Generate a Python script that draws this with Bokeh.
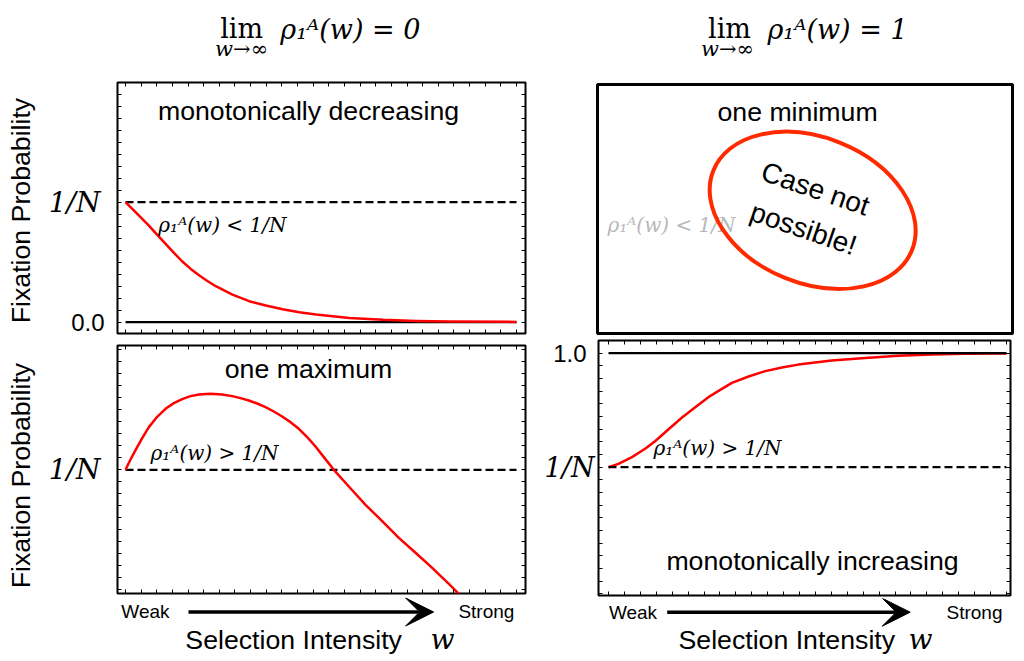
import math
import numpy as np
from bokeh.plotting import figure
from bokeh.models import Label, Arrow, VeeHead, LinearAxis, FixedTicker, Range1d
from bokeh.layouts import row, column
from bokeh.embed import file_html
from bokeh.resources import INLINE
from bokeh.core.properties import value

# ---------------- data ----------------
N_POP = 4
ONE_OVER_N = 0.25          # 1/N
ZERO_LEVEL = 0.0
ONE_LEVEL = 1.0
W_LIMITS = [0.0, 1.0]      # weak ... strong selection

# top-left: monotonically decreasing, rho < 1/N
dec_w = [0.0, 0.0128, 0.0256, 0.0427, 0.0598, 0.0812, 0.1026, 0.1239, 0.1453,
         0.1667, 0.188, 0.2094, 0.2308, 0.2735, 0.3162, 0.359, 0.4017, 0.4444,
         0.4872, 0.5726, 0.6581, 0.7436, 0.8291, 1.0]
dec_rho = [0.25, 0.2396, 0.2292, 0.2153, 0.2014, 0.1819, 0.1632, 0.1444, 0.1265,
           0.1110, 0.0978, 0.0858, 0.0750, 0.0576, 0.0438, 0.0347, 0.0271, 0.0208,
           0.016, 0.009, 0.0049, 0.0028, 0.0014, 0.0007]

# bottom-left: one maximum, rho > 1/N for weak selection
max_w = [0.0, 0.0128, 0.0256, 0.0426, 0.0597, 0.081, 0.1023, 0.1236, 0.1449,
         0.1662, 0.1876, 0.2174, 0.2472, 0.2728, 0.2941, 0.3154, 0.3367, 0.3581,
         0.3794, 0.4007, 0.422, 0.4433, 0.4646, 0.4859, 0.5072, 0.5328, 0.5712,
         0.6138, 0.6564, 0.6991, 0.7417, 0.7843, 0.827, 0.8525]
max_rho = [0.25, 0.2715, 0.291, 0.316, 0.3389, 0.3604, 0.3771, 0.3889, 0.3972,
           0.4035, 0.4069, 0.4083, 0.4069, 0.4035, 0.3993, 0.3944, 0.3882, 0.3806,
           0.3715, 0.3611, 0.3493, 0.3354, 0.3181, 0.2986, 0.2764, 0.25, 0.2153,
           0.1771, 0.1431, 0.1083, 0.0771, 0.0458, 0.0125, -0.0083]

# bottom-right: monotonically increasing towards 1
inc_w = [0.0, 0.025, 0.059, 0.092, 0.117, 0.151, 0.184, 0.218, 0.251, 0.285,
         0.310, 0.352, 0.394, 0.436, 0.477, 0.561, 0.645, 0.729, 0.812, 0.896, 1.0]
inc_rho = [0.25, 0.272, 0.316, 0.371, 0.421, 0.500, 0.575, 0.645, 0.711, 0.765,
           0.805, 0.847, 0.882, 0.906, 0.925, 0.952, 0.969, 0.983, 0.991, 0.996, 0.998]

# tick labels
TICK_ONE_OVER_N = "1/N"
TICK_ZERO = "0.0"
TICK_ONE = "1.0"

SANS = "Liberation Sans"
SERIF = "DejaVu Serif"
RED = "#ff0000"
ELLIPSE_RED = "#ff2a00"
TXT = 26.7

# panel data ranges (frame extents)
TL_X = (-0.0205, 1.0230); TL_Y = (-0.0235, 0.4994)
BL_X = TL_X;              BL_Y = (-0.0077, 0.5090)
TR_X = (-0.0276, 1.0151); TR_Y = (-0.0235, 0.4952)
BR_X = (-0.0251, 1.0101); BR_Y = (-0.5941, 1.0836)


def extend(rng, npx, lo_px, hi_px):
    s = npx / (rng[1] - rng[0])
    return (rng[0] - lo_px / s, rng[1] + hi_px / s)


def shift(rng, npx, lo_px, hi_px):
    """range of a strip lying beyond the high end (positive px) or
    below the low end (negative px) of a frame of npx pixels"""
    s = npx / (rng[1] - rng[0])
    if lo_px >= 0:
        return (rng[1] + lo_px / s, rng[1] + hi_px / s)
    return (rng[0] + lo_px / s, rng[0] + hi_px / s)


def base_fig(x_rng, y_rng, fw, fh, left, right, top, bottom, **kw):
    p = figure(frame_width=fw, frame_height=fh,
               x_range=Range1d(*x_rng), y_range=Range1d(*y_rng),
               min_border_left=left, min_border_right=right,
               min_border_top=top, min_border_bottom=bottom,
               output_backend="svg", toolbar_location=None, tools="", **kw)
    p.grid.visible = False
    p.background_fill_color = "white"
    p.border_fill_color = "white"
    return p


def strip(x_rng, y_rng, fw, fh, left=0, right=0, top=0, bottom=0):
    p = base_fig(x_rng, y_rng, fw, fh, left, right, top, bottom,
                 x_axis_location=None, y_axis_location=None)
    p.outline_line_color = None
    return p


def panel(x_rng, y_rng, fw, fh, left, right, top, bottom, ticks=True,
          y_step=0.025, outline=2):
    kw = {} if ticks else dict(x_axis_location=None, y_axis_location=None)
    p = base_fig(x_rng, y_rng, fw, fh, left, right, top, bottom, **kw)
    p.outline_line_color = "black"
    p.outline_line_width = outline
    if ticks:
        p.add_layout(LinearAxis(), "above")
        p.add_layout(LinearAxis(), "right")
        xt = FixedTicker(ticks=[], minor_ticks=list(np.round(np.arange(-0.2, 1.2, 0.04), 4)))
        yt = FixedTicker(ticks=[], minor_ticks=list(np.round(np.arange(-1.0, 1.5, y_step), 4)))
        for ax in p.xaxis:
            ax.ticker = xt
        for ax in p.yaxis:
            ax.ticker = yt
        for ax in p.axis:
            ax.axis_line_color = None
            ax.major_tick_in = 0
            ax.major_tick_out = 0
            ax.minor_tick_in = 4
            ax.minor_tick_out = 0
            ax.minor_tick_line_color = "black"
            ax.minor_tick_line_width = 1
            ax.major_label_standoff = 0
    return p


def lab(p, x, y, text, size, font=SANS, style="normal", align="left",
        baseline="middle", angle=0.0, color="black", x_offset=0):
    p.add_layout(Label(x=x, y=y, text=text, text_font=font,
                       text_font_size=f"{size}px", text_font_style=style,
                       text_align=align, text_baseline=baseline, angle=angle,
                       text_color=color, x_offset=x_offset))


def x_axis_block(p, weak_x, strong_x, lab_y, arr_x0, arr_x1, arr_y, sel_x, sel_y, w_x):
    lab(p, weak_x, lab_y, "Weak", 19, align="center")
    lab(p, strong_x, lab_y, "Strong", 19, align="center")
    p.add_layout(Arrow(end=VeeHead(size=28, fill_color="black", line_color="black"),
                       x_start=arr_x0, y_start=arr_y, x_end=arr_x1, y_end=arr_y,
                       line_width=3.5, line_color="black"))
    lab(p, sel_x, sel_y, "Selection Intensity", TXT)
    lab(p, w_x, sel_y, "w", 28, font=SERIF, style="italic")


def title_block(p, lim_x, sub_x, rho_x, text):
    lab(p, lim_x, 0.612, "lim", 27, font=SERIF, align="center")
    lab(p, sub_x, 0.570, "w→∞", 21, font=SERIF, style="italic", align="center")
    lab(p, rho_x, 0.610, text, 27, font=SERIF, style="italic")


# ================= left block (width 545) =================
title_l = strip(TL_X, shift(TL_Y, 251, 3, 82), 408, 79, left=117, right=20)
title_block(title_l, 0.297, 0.297, 0.396, "ρ₁ᴬ(w) = 0")

ylab_tl = strip(shift(TL_X, 408, -117, -3), TL_Y, 114, 251, top=3, bottom=6)
lab(ylab_tl, TL_X[0], ONE_OVER_N, TICK_ONE_OVER_N, 28, font=SERIF, style="italic",
    align="right", x_offset=-17)
lab(ylab_tl, TL_X[0], ZERO_LEVEL, TICK_ZERO, 24, align="right", x_offset=-13)
lab(ylab_tl, -0.2665, 0.2327, "Fixation Probability", TXT, align="center",
    angle=math.pi / 2)

tl = panel(TL_X, TL_Y, 408, 251, 3, 20, 3, 6)
tl.line(W_LIMITS, [ONE_OVER_N, ONE_OVER_N], line_color="black", line_width=2.2, line_dash="8 4")
tl.line(W_LIMITS, [ZERO_LEVEL, ZERO_LEVEL], line_color="black", line_width=2.2)
tl.line(dec_w, dec_rho, line_color=RED, line_width=2.5, line_join="round")
lab(tl, 0.468, 0.439, "monotonically decreasing", TXT, align="center")
lab(tl, 0.084, 0.2015, "ρ₁ᴬ(w) < 1/N", 20, font=SERIF, style="italic")

ylab_bl = strip(shift(BL_X, 408, -117, -3), BL_Y, 114, 248, top=6, bottom=3)
lab(ylab_bl, BL_X[0], ONE_OVER_N, TICK_ONE_OVER_N, 28, font=SERIF, style="italic",
    align="right", x_offset=-17)
lab(ylab_bl, -0.2665, 0.238, "Fixation Probability", TXT, align="center",
    angle=math.pi / 2)

bl = panel(BL_X, BL_Y, 408, 248, 3, 20, 6, 3)
bl.line(W_LIMITS, [ONE_OVER_N, ONE_OVER_N], line_color="black", line_width=2.2, line_dash="8 4")
bl.line(max_w, max_rho, line_color=RED, line_width=2.5, line_join="round")
lab(bl, 0.468, 0.459, "one maximum", TXT, align="center")
lab(bl, 0.064, 0.284, "ρ₁ᴬ(w) > 1/N", 20, font=SERIF, style="italic")

xlab_l = strip(BL_X, shift(BL_Y, 248, -66, -3), 408, 63, left=117, right=20)
x_axis_block(xlab_l, 0.051, 0.923, -0.0452, 0.161, 0.788, -0.0463, 0.153, -0.1036, 0.780)

left = column(title_l, row(ylab_tl, tl), row(ylab_bl, bl), xlab_l)

# ================= right block (width 478) =================
title_r = strip(TR_X, shift(TR_Y, 249, 3, 84), 415, 81, left=52, right=11)
title_block(title_r, 0.304, 0.299, 0.3995, "ρ₁ᴬ(w) = 1")

tr = panel(TR_X, TR_Y, 415, 249, 52, 11, 3, 4, ticks=False, outline=3)
tr.text(x=[-0.0025], y=[0.2015], text=["ρ₁ᴬ(w) < 1/N"], text_font=value(SERIF),
        text_font_style="italic", text_font_size="20px", text_color="#b8b8b8",
        text_baseline="middle")
tr.ellipse(x=[0.513], y=[0.233], width=214, height=146, width_units="screen",
           height_units="screen", angle=-0.38, fill_color=None,
           line_color=ELLIPSE_RED, line_width=4)
tr.text(x=[0.520, 0.490], y=[0.278, 0.195], text=["Case not", "possible!"],
        text_font=value(SANS), text_font_size="28px", text_color="black",
        text_align="center", text_baseline="middle", angle=-0.33)
lab(tr, 0.475, 0.437, "one minimum", TXT, align="center")

ylab_br = strip(shift(BR_X, 412, -53, -2), BR_Y, 51, 255, top=3, bottom=3)
lab(ylab_br, BR_X[0], ONE_LEVEL, TICK_ONE, 24, align="right", x_offset=-12)
lab(ylab_br, BR_X[0], ONE_OVER_N, TICK_ONE_OVER_N, 27, font=SERIF, style="italic",
    align="right", x_offset=-4)

br = panel(BR_X, BR_Y, 412, 255, 2, 13, 3, 3, y_step=1 / 12)
br.line(inc_w, inc_rho, line_color=RED, line_width=2.5, line_join="round")
br.line(W_LIMITS, [ONE_LEVEL, ONE_LEVEL], line_color="black", line_width=2.2)
br.line(W_LIMITS, [ONE_OVER_N, ONE_OVER_N], line_color="black", line_width=2.2, line_dash="8 4")
lab(br, 0.113, 0.3796, "ρ₁ᴬ(w) > 1/N", 20, font=SERIF, style="italic")
lab(br, 0.5126, -0.3704, "monotonically increasing", TXT, align="center")

xlab_r = strip(extend(BR_X, 412, 1, 2), shift(BR_Y, 255, -64, -3), 415, 61, left=52, right=11)
x_axis_block(xlab_r, 0.0616, 0.9196, -0.706, 0.1475, 0.7581, -0.704, 0.1759, -0.8836, 0.7538)

right = column(title_r, tr, row(ylab_br, br), xlab_r)

layout = row(left, right)

with open("out.html", "w") as f:
    f.write(file_html(layout, INLINE))
